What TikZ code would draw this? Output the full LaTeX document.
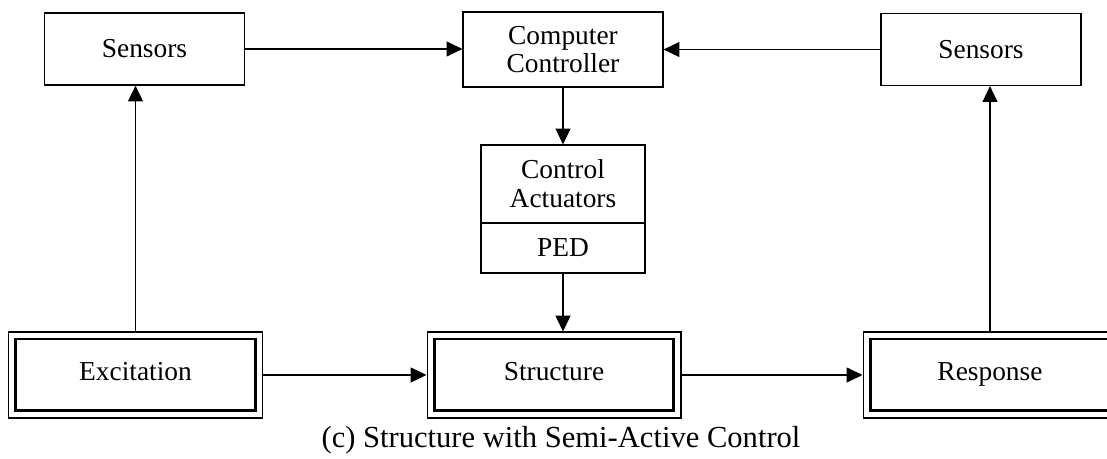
\documentclass[tikz,border=0pt]{standalone}
\usepackage{fontspec}
\setmainfont{Liberation Serif}
\usetikzlibrary{arrows.meta,positioning}

\begin{document}
\begin{tikzpicture}[x=0.02cm, y=-0.02cm,
  every node/.style={font=\fontsize{15.6}{15.8}\selectfont},
  box/.style={draw, line width=0.7pt, rectangle, minimum width=4cm, minimum height=1.44cm, align=center, inner sep=0pt},
  outerbox/.style={draw, line width=0.6pt, rectangle, minimum width=5.08cm, minimum height=1.72cm, inner sep=0pt},
  innerbox/.style={draw, line width=1.7pt, rectangle, minimum width=4.8cm, minimum height=1.44cm, text height=0.8em, text depth=0.2em},
  arr/.style={-{Triangle[length=9pt, width=8.5pt]}, line width=0.7pt}]
  \useasboundingbox (0,0) rectangle (1107,459);
  \clip (0,0) rectangle (1107,459);

  % Top row - sensors and controller
  \node[box] (sensL) at (144.5, 49) {Sensors};
  \node[box, minimum height=1.5cm] (ctrl) at (563, 49.5) {Computer\\Controller};
  \node[box] (sensR) at (981, 49.5) {Sensors};

  % Control actuators with PED part
  \node[box, minimum width=3.28cm, minimum height=1.56cm, font=\fontsize{15.6}{16.5}\selectfont] (act) at (563, 184) {Control\\Actuators};
  \node[box, minimum width=3.28cm, minimum height=1cm] (ped) at (563, 248) {PED};

  % Bottom row - double framed boxes
  \node[outerbox] (exc) at (135.5, 375) {};
  \node[innerbox] (exc-in) at (exc) {Excitation};
  \node[outerbox] (str) at (554, 375) {};
  \node[innerbox] (str-in) at (str) {Structure};
  \node[outerbox] (rsp) at (990, 375) {};
  \node[innerbox] (rsp-in) at (rsp) {Response};

  % Connectors
  \draw[arr] (exc.north) -- (exc.north |- sensL.south);
  \draw[arr] (rsp.north) -- (rsp.north |- sensR.south);
  \draw[arr] (sensL.east) -- (sensL.east -| ctrl.west);
  \draw[arr] (sensR.west) -- (sensR.west -| ctrl.east);
  \draw[arr] (ctrl.south) -- (act.north);
  \draw[arr] (ped.south) -- (ped.south |- str.north);
  \draw[arr] (exc.east) -- (str.west);
  \draw[arr] (str.east) -- (rsp.west);

  \node[font=\fontsize{17.4}{18}\selectfont] (cap) at (561, 440) {(c) Structure with Semi-Active Control};
\end{tikzpicture}
\end{document}
